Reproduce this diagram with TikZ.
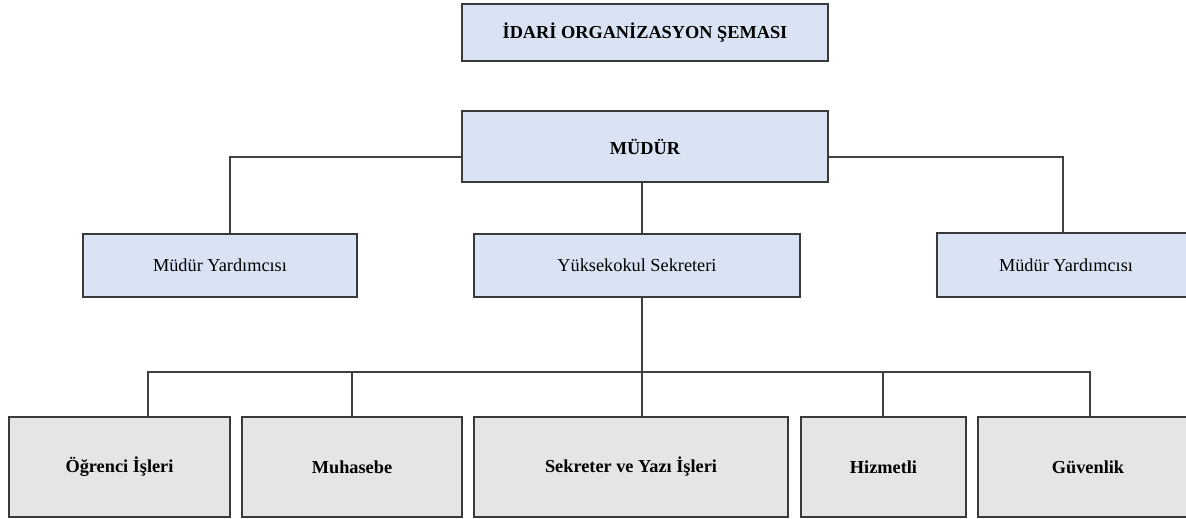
\documentclass[tikz,border=0pt]{standalone}
\usepackage{fontspec}
\setmainfont{Liberation Serif}
\definecolor{boxblue}{HTML}{DAE3F3}
\definecolor{boxgray}{HTML}{E5E5E5}
\definecolor{boxline}{HTML}{3A3A3A}
\definecolor{connline}{HTML}{404040}
\begin{document}
\begin{tikzpicture}[x=1pt,y=-1pt,
  box/.style={draw=boxline, line width=1.3pt, inner sep=0pt, font=\fontsize{18.3}{21}\selectfont},
  bluebox/.style={box, fill=boxblue},
  bluebold/.style={bluebox, font=\fontsize{18.3}{21}\selectfont\bfseries},
  graybox/.style={box, fill=boxgray, font=\fontsize{18.3}{21}\selectfont\bfseries},
  conn/.style={draw=connline, line width=1.3pt}]
\useasboundingbox (0,0) rectangle (1186,519);
\clip (0,0) rectangle (1186,519);
\fill[white] (0,0) rectangle (1186,519);

% top
\node[bluebold, minimum width=366pt, minimum height=57pt] (title) at (645,32.5) {İDARİ ORGANİZASYON ŞEMASI};
\node[bluebold, minimum width=366pt, minimum height=71pt] (mudur) at (645,146.5) {MÜDÜR};

% middle row
\node[bluebox, minimum width=274pt, minimum height=63pt] (myl) at (220,265.5) {Müdür Yardımcısı};
\node[bluebox, minimum width=326pt, minimum height=63pt] (ys) at (637,265.5) {Yüksekokul Sekreteri};
\node[bluebox, minimum width=258pt, minimum height=64pt] (myr) at (1066,265) {Müdür Yardımcısı};

% bottom row
\node[graybox, minimum width=221pt, minimum height=100pt] (oi) at (119.5,467) {Öğrenci İşleri};
\node[graybox, minimum width=220pt, minimum height=100pt] (mu) at (352,467) {Muhasebe};
\node[graybox, minimum width=314pt, minimum height=100pt] (sy) at (631,467) {Sekreter ve Yazı İşleri};
\node[graybox, minimum width=165pt, minimum height=100pt] (hz) at (883.5,467) {Hizmetli};
\node[graybox, minimum width=220pt, minimum height=100pt] (gv) at (1088,467) {Güvenlik};

% coordinates
\coordinate (lt) at (230,157);
\coordinate (rt) at (1063,157);
\coordinate (mid) at (642,157);
\coordinate (b1) at (148,372);
\coordinate (b2) at (352,372);
\coordinate (b3) at (642,372);
\coordinate (b4) at (883,372);
\coordinate (b5) at (1090,372);

% connectors upper
\draw[conn] (mudur.west |- lt) -- (lt) -- (lt |- myl.north);
\draw[conn] (mudur.east |- rt) -- (rt) -- (rt |- myr.north);
\draw[conn] (mid |- mudur.south) -- (mid |- ys.north);

% connectors lower
\draw[conn] (b3 |- ys.south) -- (b3) -- (b3 |- sy.north);
\draw[conn] (b1 |- oi.north) -- (b1) -- (b5) -- (b5 |- gv.north);
\draw[conn] (b2) -- (b2 |- mu.north);
\draw[conn] (b4) -- (b4 |- hz.north);
\end{tikzpicture}
\end{document}
